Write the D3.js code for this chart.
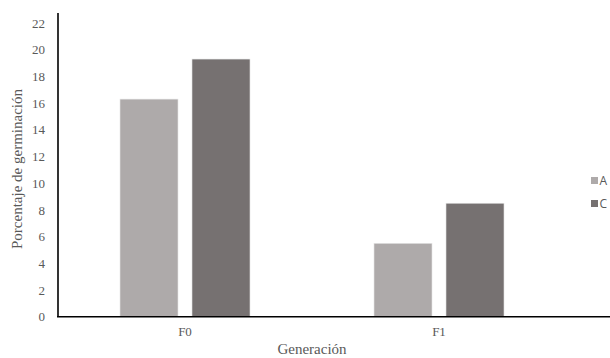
<!DOCTYPE html>
<html>
<head>
<meta charset="utf-8">
<script src="https://cdn.jsdelivr.net/npm/d3@7"></script>
<style>
  html, body { margin: 0; padding: 0; background: #fff; }
  svg { display: block; }
</style>
</head>
<body>
<svg id="chart" width="610" height="358"></svg>
<script>
// Germination percentage per generation and treatment
const generations = ["F0", "F1"];
const seriesNames = ["A", "C"];
const valuesA = [16.3, 5.5];
const valuesC = [19.3, 8.5];
const yTicks = [0, 2, 4, 6, 8, 10, 12, 14, 16, 18, 20, 22];
const seriesColors = ["#AEAAAA", "#767171"];

const svg = d3.select("#chart");
const W = 610, H = 358;
const plot = { left: 58, right: 566, top: 13, bottom: 316.7 };
const serif = "'Liberation Serif', 'Times New Roman', serif";

const x = d3.scaleBand().domain(generations).range([plot.left, plot.right]);
const xInner = d3.scaleBand().domain(seriesNames)
  .range([0, x.bandwidth()]).paddingInner(0.194).paddingOuter(0.861);
const y = d3.scaleLinear().domain([0, 22]).range([plot.bottom, plot.bottom - 22 * 13.35]);

const rows = generations.map((g, i) => ({ g, vals: [valuesA[i], valuesC[i]] }));

// Bars
const groups = svg.append("g").selectAll("g").data(rows).join("g")
  .attr("transform", d => `translate(${x(d.g)},0)`);
groups.selectAll("rect")
  .data(d => d.vals.map((v, k) => ({ s: seriesNames[k], v, k })))
  .join("rect")
  .attr("x", d => xInner(d.s))
  .attr("width", xInner.bandwidth())
  .attr("y", d => y(d.v))
  .attr("height", d => y(0) - y(d.v))
  .attr("fill", d => seriesColors[d.k])
  .attr("stroke", "#e8e8e8")
  .attr("stroke-width", 0.6);

// Y axis
const yAxis = svg.append("g")
  .attr("transform", `translate(${plot.left},0)`)
  .call(d3.axisLeft(y).tickValues(yTicks).tickSize(0).tickPadding(13));
yAxis.select(".domain").remove();
yAxis.selectAll("text")
  .attr("font-family", serif)
  .attr("font-size", 13)
  .attr("fill", "#595959");
svg.append("line")
  .attr("x1", plot.left).attr("x2", plot.left)
  .attr("y1", plot.top).attr("y2", plot.bottom)
  .attr("stroke", "#000").attr("stroke-width", 1.6);

// X axis
const xAxis = svg.append("g")
  .attr("transform", `translate(0,${plot.bottom})`)
  .call(d3.axisBottom(x).tickSize(0).tickPadding(10));
xAxis.select(".domain").remove();
xAxis.selectAll("text")
  .attr("font-family", serif)
  .attr("font-size", 13)
  .attr("fill", "#595959");
svg.append("line")
  .attr("x1", plot.left - 1).attr("x2", W)
  .attr("y1", plot.bottom).attr("y2", plot.bottom)
  .attr("stroke", "#000").attr("stroke-width", 1.6);

// Axis titles
svg.append("text")
  .attr("x", 312).attr("y", 354)
  .attr("text-anchor", "middle")
  .attr("font-family", serif)
  .attr("font-size", 15)
  .attr("fill", "#595959")
  .text("Generación");
svg.append("text")
  .attr("transform", "translate(22,169) rotate(-90)")
  .attr("text-anchor", "middle")
  .attr("font-family", serif)
  .attr("font-size", 15)
  .attr("fill", "#595959")
  .text("Porcentaje de germinación");

// Legend
const legend = svg.append("g").selectAll("g").data(seriesNames).join("g")
  .attr("transform", (d, i) => `translate(591,${177 + i * 23})`);
legend.append("rect")
  .attr("width", 7).attr("height", 7)
  .attr("fill", (d, i) => seriesColors[i]);
legend.append("text")
  .attr("x", 8.5).attr("y", 7.5)
  .attr("font-family", "'Open Sans', 'Liberation Sans', sans-serif")
  .attr("font-size", 12)
  .attr("fill", "#595959")
  .text(d => d);
</script>
</body>
</html>
